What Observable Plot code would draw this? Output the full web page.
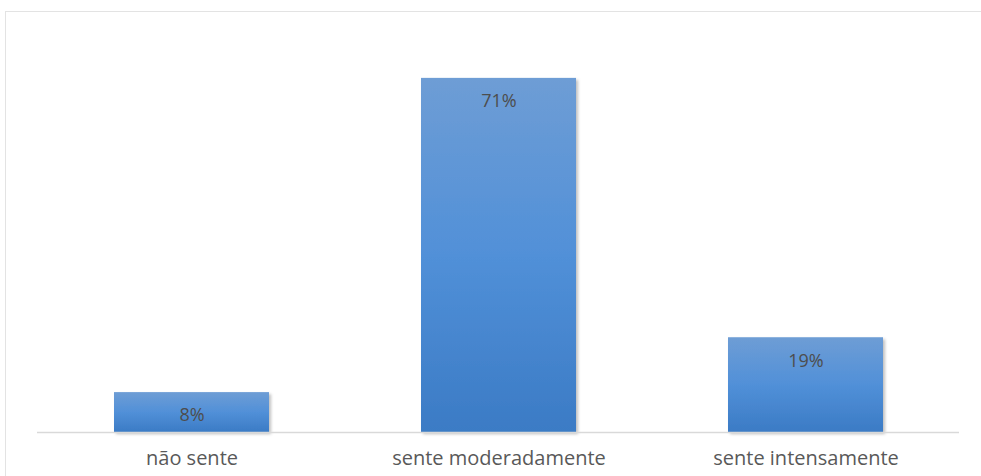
<!DOCTYPE html>
<html>
<head>
<meta charset="utf-8">
<script src="https://cdn.jsdelivr.net/npm/d3@7"></script>
<script src="https://cdn.jsdelivr.net/npm/@observablehq/plot@0.6"></script>
<style>
  html, body { margin: 0; padding: 0; background: #ffffff; }
  #wrap { position: relative; width: 981px; height: 476px; overflow: hidden; }
  #frame { position: absolute; left: 5px; top: 11px; width: 990px; height: 480px;
           border-left: 1.5px solid #e3e3e3; border-top: 1.5px solid #e3e3e3; box-sizing: border-box; }
  #chart { position: absolute; left: 0; top: 0; }
</style>
</head>
<body>
<div id="wrap"><div id="frame"></div><div id="chart"></div></div>
<script>
const categories = ["não sente", "sente moderadamente", "sente intensamente"];
const values = [8, 71, 19];
const labels = ["8%", "71%", "19%"];

const data = categories.map((c, i) => ({ category: c, value: values[i], label: labels[i] }));

const defs = () => {
  const ns = "http://www.w3.org/2000/svg";
  const d = document.createElementNS(ns, "defs");
  d.innerHTML = `
    <linearGradient id="barGrad" x1="0" y1="0" x2="0" y2="1">
      <stop offset="0%" stop-color="#6e9dd5"/>
      <stop offset="50%" stop-color="#5190d8"/>
      <stop offset="100%" stop-color="#3b7bc5"/>
    </linearGradient>
    <filter id="shadow" x="-10%" y="-10%" width="130%" height="130%">
      <feDropShadow dx="2" dy="2" stdDeviation="1.5" flood-color="#000" flood-opacity="0.25"/>
    </filter>`;
  return d;
};

const chart = Plot.plot({
  width: 981,
  height: 476,
  marginLeft: 37,
  marginRight: 22,
  marginTop: 33,
  marginBottom: 44,
  style: { fontFamily: "'Open Sans', 'Liberation Sans', sans-serif", background: "transparent" },
  x: { domain: categories, paddingInner: 0.496, paddingOuter: 0.248, label: null },
  y: { domain: [0, 80], axis: null },
  marks: [
    defs,
    Plot.barY(data, { x: "category", y: "value", fill: "url(#barGrad)" }),
    Plot.ruleY([0], { stroke: "#d9d9d9", strokeWidth: 1.5 }),
    Plot.text(data, { x: "category", y: "value", text: "label", dy: 23, fill: "#4d4d4d", fontSize: 18 }),
    Plot.axisX({ tickSize: 0, tickPadding: 18, fontSize: 20, color: "#595959", label: null })
  ]
});
chart.querySelectorAll("[aria-label='bar'] rect").forEach(r => r.setAttribute("filter", "url(#shadow)"));
document.getElementById("chart").appendChild(chart);
</script>
</body>
</html>
